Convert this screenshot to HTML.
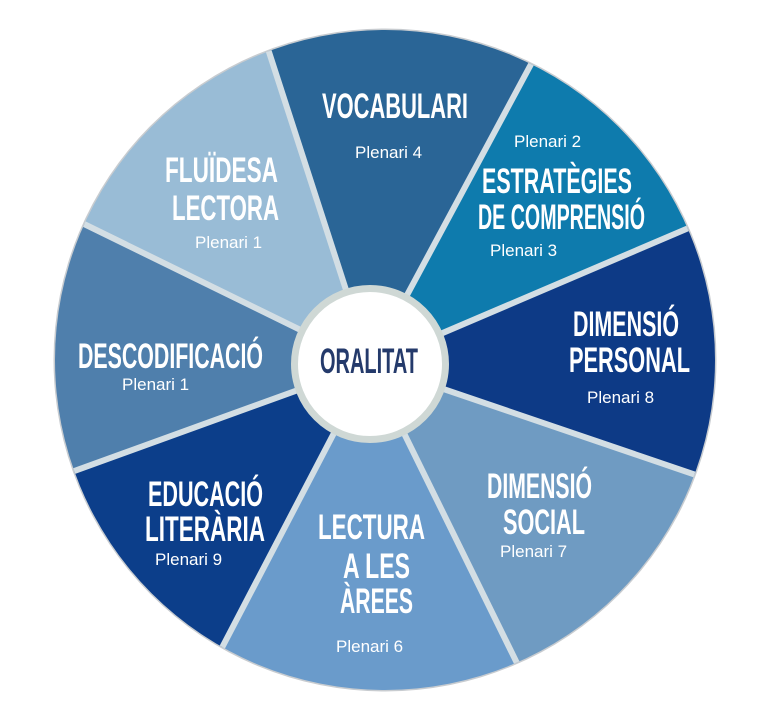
<!DOCTYPE html>
<html><head><meta charset="utf-8"><style>
html,body{margin:0;padding:0;background:#fff;width:758px;height:702px;overflow:hidden;}
svg{display:block;}
.t{font-family:"Liberation Sans",sans-serif;font-weight:bold;font-size:35px;fill:#fff;}
.p{font-family:"Liberation Sans",sans-serif;font-size:17px;fill:#fff;}
</style></head><body>
<svg width="758" height="702" viewBox="0 0 758 702" xmlns="http://www.w3.org/2000/svg">
<defs><clipPath id="c"><circle cx="385" cy="360" r="330"/></clipPath></defs>
<circle cx="385" cy="360" r="331.5" fill="#c8ccd0"/>
<g clip-path="url(#c)">
<polygon points="370,364 -206,82 168,-260" fill="#99bcd6"/>
<polygon points="370,364 168,-260 688,-228" fill="#2a6596"/>
<polygon points="370,364 688,-228 998,96" fill="#0e7bad"/>
<polygon points="370,364 998,96 1010,582" fill="#0d3a86"/>
<polygon points="370,364 1010,582 654,942" fill="#6f9bc2"/>
<polygon points="370,364 654,942 82,916" fill="#6a9bcb"/>
<polygon points="370,364 82,916 -216,576" fill="#0c3e8a"/>
<polygon points="370,364 -216,576 -206,82" fill="#4f7fac"/>
<g stroke="#d3dee4" stroke-width="6">
<line x1="370" y1="364" x2="168" y2="-260"/>
<line x1="370" y1="364" x2="688" y2="-228"/>
<line x1="370" y1="364" x2="998" y2="96"/>
<line x1="370" y1="364" x2="1010" y2="582"/>
<line x1="370" y1="364" x2="654" y2="942"/>
<line x1="370" y1="364" x2="82" y2="916"/>
<line x1="370" y1="364" x2="-216" y2="576"/>
<line x1="370" y1="364" x2="-206" y2="82"/>
</g>
</g>
<circle cx="370" cy="364" r="75.5" fill="#fff" stroke="#cfd8d5" stroke-width="7"/>
<text x="320" y="373" textLength="98" lengthAdjust="spacingAndGlyphs" style="font-family:'Liberation Sans',sans-serif;font-weight:bold;font-size:35px;fill:#243a6b">ORALITAT</text>

<text class="t" x="322" y="118" textLength="146" lengthAdjust="spacingAndGlyphs">VOCABULARI</text>
<text class="p" x="355" y="158">Plenari 4</text>

<text class="t" x="165" y="182" textLength="113" lengthAdjust="spacingAndGlyphs">FLUÏDESA</text>
<text class="t" x="172" y="220" textLength="107" lengthAdjust="spacingAndGlyphs">LECTORA</text>
<text class="p" x="195" y="248">Plenari 1</text>

<text class="p" x="514" y="147">Plenari 2</text>
<text class="t" x="482" y="193" textLength="150" lengthAdjust="spacingAndGlyphs">ESTRATÈGIES</text>
<text class="t" x="478" y="229" textLength="167" lengthAdjust="spacingAndGlyphs">DE COMPRENSIÓ</text>
<text class="p" x="490" y="256">Plenari 3</text>

<text class="t" x="573" y="336" textLength="106" lengthAdjust="spacingAndGlyphs">DIMENSIÓ</text>
<text class="t" x="569" y="372" textLength="121" lengthAdjust="spacingAndGlyphs">PERSONAL</text>
<text class="p" x="587" y="403">Plenari 8</text>

<text class="t" x="78" y="368" textLength="185" lengthAdjust="spacingAndGlyphs">DESCODIFICACIÓ</text>
<text class="p" x="122" y="390">Plenari 1</text>

<text class="t" x="487" y="498" textLength="105" lengthAdjust="spacingAndGlyphs">DIMENSIÓ</text>
<text class="t" x="503" y="534" textLength="82" lengthAdjust="spacingAndGlyphs">SOCIAL</text>
<text class="p" x="500" y="557">Plenari 7</text>

<text class="t" x="318" y="539" textLength="107" lengthAdjust="spacingAndGlyphs">LECTURA</text>
<text class="t" x="343" y="578" textLength="67" lengthAdjust="spacingAndGlyphs">A LES</text>
<text class="t" x="340" y="613" textLength="73" lengthAdjust="spacingAndGlyphs">ÀREES</text>
<text class="p" x="336" y="652">Plenari 6</text>

<text class="t" x="148" y="506" textLength="115" lengthAdjust="spacingAndGlyphs">EDUCACIÓ</text>
<text class="t" x="145" y="541" textLength="120" lengthAdjust="spacingAndGlyphs">LITERÀRIA</text>
<text class="p" x="155" y="565">Plenari 9</text>
</svg>
</body></html>
